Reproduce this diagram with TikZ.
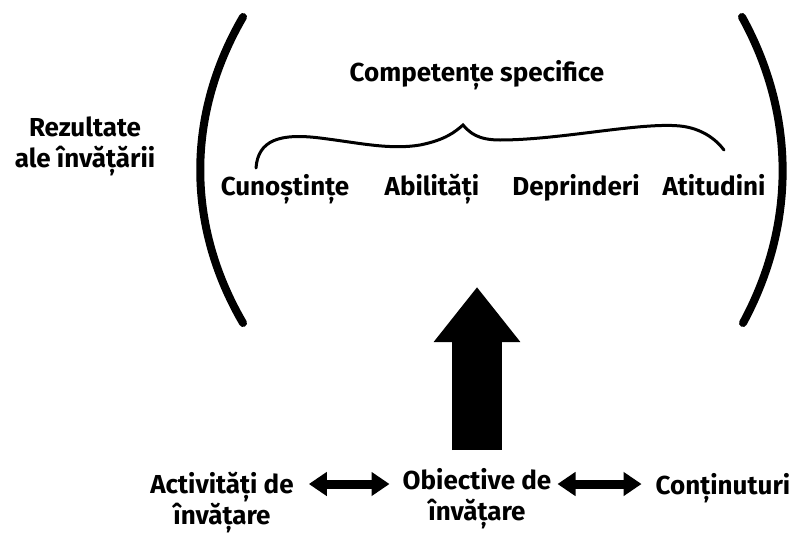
\documentclass[tikz,border=0pt]{standalone}
\usepackage{fontspec}
\setmainfont{Fira Sans}
\usetikzlibrary{arrows.meta}
\tikzset{
  lbl/.style={font=\fontsize{26}{31}\selectfont\bfseries, inner sep=0pt, anchor=base, align=center},
  paren/.style={line width=8pt, line cap=round},
  twoway/.style={line width=9pt, {Triangle[width=23pt,length=18pt]}-{Triangle[width=23pt,length=18pt]}},
  bigup/.style={line width=50pt, -{Triangle[width=83pt,length=55pt]}},
}
\begin{document}
\begin{tikzpicture}[x=1pt,y=-1pt]
    \useasboundingbox (0,0) rectangle (797,533);

    % brackets
    \draw [paren] (243,17) .. controls (186,115) and (186,225) .. (243,323);
    \draw [paren] (742,17) .. controls (796,115) and (796,225) .. (743,323);

    % labels
    \node [lbl] (comp) at (477,81) {Competențe specifice};
    \node [lbl] (rez) at (85,167) {Rezultate\\ale învățării};
    \node [lbl] (cun) at (285,195) {Cunoștințe};
    \node [lbl] (abi) at (432,195) {Abilități};
    \node [lbl] (dep) at (576,195) {Deprinderi};
    \node [lbl] (ati) at (714,195) {Atitudini};

    \node [lbl] (act) at (222,524) {Activități de\\învățare};
    \node [lbl] (obj) at (477,520) {Obiective de\\învățare};
    \node [lbl] (cont) at (723,494) {Conținuturi};

    % curly brace
    \draw [line width=3pt, line cap=round]
        (256,168) .. controls (258,140) and (280,133) .. (320,138)
        .. controls (360,143) and (390,150) .. (420,145)
        .. controls (445,140) and (455,132) .. (463,125)
        .. controls (470,133) and (478,140) .. (500,140)
        .. controls (560,140) and (640,122) .. (680,126)
        .. controls (700,128) and (715,138) .. (724,150);

    % arrows
    \coordinate (row) at (0,484);
    \coordinate (tip) at (477,287);
    \draw [twoway, shorten <=15pt, shorten >=13pt] (act.east |- row) -- (obj.west |- row);
    \draw [twoway, shorten <=6pt, shorten >=14pt] (obj.east |- row) -- (cont.west |- row);
    \draw [bigup] (obj.north |- 0,450) -- (tip);

\end{tikzpicture}
\end{document}
